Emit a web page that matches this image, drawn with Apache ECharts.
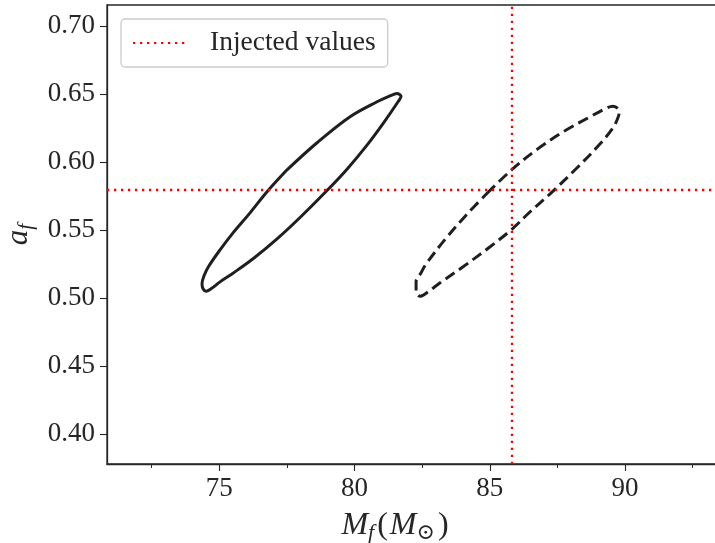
<!DOCTYPE html>
<html><head><meta charset="utf-8">
<script src="https://cdn.jsdelivr.net/npm/echarts@6/dist/echarts.min.js"></script>
<style>html,body{margin:0;padding:0;background:#fff}#c{width:715px;height:543px}</style>
</head><body><div id="c"></div>
<script>
// ---- data ----
const xTicks = [75, 80, 85, 90];
const xMinorTicks = [72.5, 77.5, 82.5, 87.5, 92.5];
const yTicks = [0.40, 0.45, 0.50, 0.55, 0.60, 0.65, 0.70];

// credible contour (solid)
const solidMf = [77.506, 78.615, 79.835, 80.833, 81.313, 81.572, 81.720, 81.609, 81.054, 80.462, 79.723, 78.983, 77.987, 77.137, 76.250, 75.510, 75.030, 74.697, 74.512, 74.401, 74.364, 74.438, 74.623, 75.030, 75.510, 76.139, 76.767, 77.506];
const solidAf = [0.5943, 0.6142, 0.6333, 0.6443, 0.6487, 0.6503, 0.6483, 0.6443, 0.6283, 0.6125, 0.5948, 0.5791, 0.5593, 0.5436, 0.5290, 0.5184, 0.5120, 0.5069, 0.5051, 0.5069, 0.5106, 0.5165, 0.5238, 0.5355, 0.5480, 0.5627, 0.5782, 0.5943];

// credible contour (dashed)
const dashedMf = [84.900, 85.824, 86.785, 87.746, 88.707, 89.298, 89.557, 89.742, 89.779, 89.706, 89.557, 89.077, 88.227, 87.229, 86.489, 85.824, 85.011, 84.013, 83.162, 82.719, 82.423, 82.275, 82.275, 82.460, 82.645, 83.347, 84.124, 84.900];
const dashedAf = [0.5771, 0.5946, 0.6099, 0.6226, 0.6333, 0.6395, 0.6410, 0.6392, 0.6362, 0.6311, 0.6253, 0.6134, 0.5958, 0.5767, 0.5635, 0.5508, 0.5378, 0.5231, 0.5113, 0.5047, 0.5014, 0.5047, 0.5121, 0.5187, 0.5251, 0.5432, 0.5610, 0.5771];

const injectedMf = 85.8;
const injectedAf = 0.578;
const legendLabel = 'Injected values';

// ---- chart ----
const FONT = '"Liberation Serif", "DejaVu Serif", serif';
const TXT = '#262626';
const AX = '#262626';
const X_MIN = 70.852, X_MAX = 93.36, Y_MIN = 0.3782, Y_MAX = 0.7154;

const zip = (a, b) => a.map((v, i) => [v, b[i]]);
const redStyle = { color: '#ff0000', width: 2.3, type: [2.3, 4.7], cap: 'butt' };

const chart = echarts.init(document.getElementById('c'), null, { renderer: 'canvas' });
chart.setOption({
  animation: false,
  backgroundColor: '#fff',
  grid: { left: 107, top: 5, width: 609, bottom: 79, show: true, borderColor: AX, borderWidth: 1.3, containLabel: false, outerBoundsMode: 'none' },
  legend: {
    left: 121, top: 19,
    orient: 'horizontal',
    data: [legendLabel],
    itemWidth: 52, itemHeight: 27,
    padding: [10, 12, 10, 11],
    borderColor: '#cccccc', borderWidth: 1.3, borderRadius: 4,
    backgroundColor: 'rgba(255,255,255,0.8)',
    itemStyle: { opacity: 0 },
    textStyle: { fontFamily: FONT, fontSize: 27.5, color: TXT, padding: [0, 0, 0, 20], lineHeight: 27 }
  },
  xAxis: [{
    type: 'value', min: X_MIN, max: X_MAX, position: 'bottom',
    axisLine: { show: true, lineStyle: { color: AX, width: 1.3 } },
    axisTick: { show: true, length: 7, customValues: xTicks, lineStyle: { color: AX, width: 1.1 } },
    axisLabel: { customValues: xTicks, fontFamily: FONT, fontSize: 27, color: TXT, margin: 11 },
    splitLine: { show: false },
    name: '{i|M}{s|f}{n|(}{i|M}{s|\u2299}{n|)}',
    nameLocation: 'middle', nameGap: 44,
    nameTextStyle: {
      fontFamily: FONT, color: TXT, padding: [0, 31, 0, 0],
      rich: {
        i: { fontFamily: FONT, fontStyle: 'italic', fontSize: 32, lineHeight: 36, color: TXT },
        n: { fontFamily: FONT, fontSize: 32, lineHeight: 36, color: TXT, padding: [0, 2, 0, 3] },
        s: { fontFamily: FONT, fontStyle: 'italic', fontSize: 22, lineHeight: 21, verticalAlign: 'bottom', color: TXT }
      }
    }
  }, {
    type: 'value', min: X_MIN, max: X_MAX, position: 'bottom', gridIndex: 0,
    axisLine: { show: false },
    axisTick: { show: true, length: 4, customValues: xMinorTicks, lineStyle: { color: AX, width: 1 } },
    axisLabel: { show: false },
    splitLine: { show: false }
  }],
  yAxis: {
    type: 'value', min: Y_MIN, max: Y_MAX,
    axisLine: { show: true, lineStyle: { color: AX, width: 1.3 } },
    axisTick: { show: true, length: 7, customValues: yTicks, lineStyle: { color: AX, width: 1.1 } },
    axisLabel: { customValues: yTicks, fontFamily: FONT, fontSize: 27, color: TXT, margin: 12, formatter: v => v.toFixed(2) },
    splitLine: { show: false },
    name: '{i|a}{s|f}',
    nameLocation: 'middle', nameGap: 68,
    nameTextStyle: {
      fontFamily: FONT, color: TXT,
      rich: {
        i: { fontFamily: FONT, fontStyle: 'italic', fontSize: 31, lineHeight: 36, color: TXT },
        s: { fontFamily: FONT, fontStyle: 'italic', fontSize: 21, lineHeight: 21, verticalAlign: 'bottom', color: TXT }
      }
    }
  },
  series: [{
    type: 'line', name: 'solid', data: zip(solidMf, solidAf),
    symbol: 'none', smooth: 0.35, z: 3,
    lineStyle: { color: '#1f1f1f', width: 3 }
  }, {
    type: 'line', name: 'dashed', data: zip(dashedMf, dashedAf),
    symbol: 'none', smooth: 0.35, z: 3,
    lineStyle: { color: '#1f1f1f', width: 3, type: [11, 5.5], cap: 'butt' }
  }, {
    type: 'line', name: legendLabel, data: [],
    symbol: 'none', z: 4,
    itemStyle: { color: '#ff0000' },
    lineStyle: redStyle,
    markLine: {
      silent: true, symbol: ['none', 'none'], label: { show: false },
      lineStyle: redStyle,
      data: [{ xAxis: injectedMf }, { yAxis: injectedAf }]
    }
  }]
});
</script></body></html>
